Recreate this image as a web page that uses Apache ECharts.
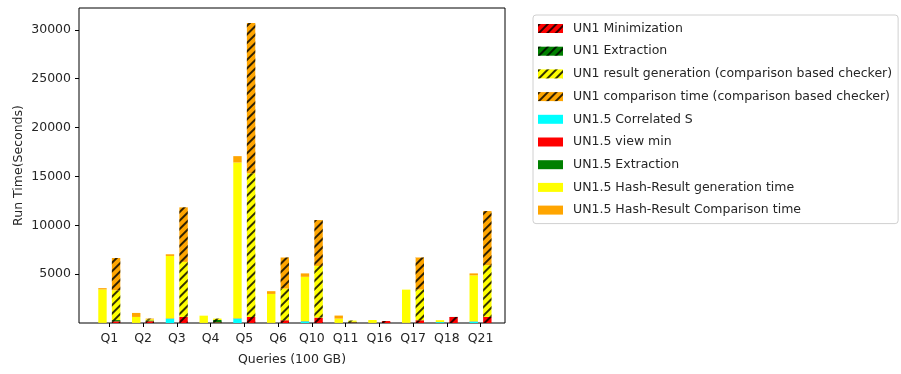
<!DOCTYPE html>
<html>
<head>
<meta charset="utf-8">
<script src="https://cdn.jsdelivr.net/npm/echarts@6/dist/echarts.min.js"></script>
<style>
  html, body { margin: 0; padding: 0; background: #fff; }
  #chart { width: 901px; height: 374px; }
</style>
</head>
<body>
<div id="chart"></div>
<script>
// Query names along the x axis
const categories = ['Q1', 'Q2', 'Q3', 'Q4', 'Q5', 'Q6', 'Q10', 'Q11', 'Q16', 'Q17', 'Q18', 'Q21'];

// UN1.5 run time components (seconds)
const un15CorrelatedS = [0, 0, 450, 0, 450, 0, 170, 0, 0, 0, 90, 150];
const un15ViewMin     = [10, 5, 20, 5, 20, 10, 15, 5, 5, 10, 5, 15];
const un15Extraction  = [5, 5, 10, 5, 10, 5, 10, 5, 5, 5, 5, 10];
const un15HashGen     = [3420, 610, 6380, 740, 15940, 2960, 4530, 440, 300, 3400, 190, 4700];
const un15HashCmp     = [130, 410, 170, 0, 650, 280, 350, 310, 0, 0, 0, 200];

// UN1 run time components (seconds)
const un1Minimization = [170, 180, 615, 60, 615, 280, 550, 60, 200, 280, 615, 615];
const un1Extraction   = [130, 80, 10, 250, 10, 10, 10, 60, 5, 10, 5, 10];
const un1ResultGen    = [3050, 120, 5625, 140, 14690, 3235, 5280, 130, 0, 3130, 0, 5290];
const un1Comparison   = [3300, 70, 5580, 0, 15376, 3175, 4690, 0, 0, 3280, 0, 5536];

// y tick values
const yTicks = [5000, 10000, 15000, 20000, 25000, 30000];

const FONT = 'DejaVu Sans';
const TEXT = '#262626';

const sumAt = (arrs, i) => arrs.reduce((s, a) => s + a[i], 0);
const totals15 = categories.map((_, i) => sumAt([un15CorrelatedS, un15ViewMin, un15Extraction, un15HashGen, un15HashCmp], i));
const totals1 = categories.map((_, i) => sumAt([un1Minimization, un1Extraction, un1ResultGen, un1Comparison], i));
const yMax = Math.max(...totals15, ...totals1) * 1.05;

// diagonal "///" hatching for the UN1 bars
const hatch = {
  symbol: 'rect',
  symbolSize: 1,
  color: 'rgba(0,0,0,0.8)',
  dashArrayX: [1, 0],
  dashArrayY: [1.4, 3.4],
  rotation: -Math.PI / 4
};

function solid(name, data, color) {
  return {
    name, type: 'bar', stack: 'un15', data,
    xAxisIndex: 0, yAxisIndex: 0,
    barWidth: 8.4, barGap: '62%',
    itemStyle: { color },
    emphasis: { disabled: true }
  };
}
function hatched(name, data, color) {
  return {
    name, type: 'bar', stack: 'un1', data,
    xAxisIndex: 0, yAxisIndex: 0,
    barWidth: 8.4, barGap: '62%',
    itemStyle: { color, decal: hatch },
    emphasis: { disabled: true }
  };
}

const series = [
  solid('UN1.5 Correlated S', un15CorrelatedS, '#00ffff'),
  solid('UN1.5 view min', un15ViewMin, '#ff0000'),
  solid('UN1.5 Extraction', un15Extraction, '#008000'),
  solid('UN1.5 Hash-Result generation time', un15HashGen, '#ffff00'),
  solid('UN1.5 Hash-Result Comparison time', un15HashCmp, '#ffa500'),
  hatched('UN1 Minimization', un1Minimization, '#ff0000'),
  hatched('UN1 Extraction', un1Extraction, '#008000'),
  hatched('UN1 result generation (comparison based checker)', un1ResultGen, '#ffff00'),
  hatched('UN1 comparison time (comparison based checker)', un1Comparison, '#ffa500')
];

const legendOrder = [
  'UN1 Minimization', 'UN1 Extraction',
  'UN1 result generation (comparison based checker)',
  'UN1 comparison time (comparison based checker)',
  'UN1.5 Correlated S', 'UN1.5 view min', 'UN1.5 Extraction',
  'UN1.5 Hash-Result generation time', 'UN1.5 Hash-Result Comparison time'
];

const chart = echarts.init(document.getElementById('chart'), null, { renderer: 'canvas' });
chart.setOption({
  animation: false,
  backgroundColor: '#fff',
  textStyle: { fontFamily: FONT },
  grid: [
    // bar area: category bands
    { left: 92.4, right: 403.6, top: 8, bottom: 51, containLabel: false },
    // framed plot box carrying the value axis
    { left: 79, right: 396, top: 8, bottom: 51, show: true, borderColor: '#000', borderWidth: 1, backgroundColor: 'transparent', z: 0 }
  ],
  xAxis: [
    {
      type: 'category', gridIndex: 0, data: categories,
      axisLine: { show: false },
      axisTick: { show: true, alignWithLabel: true, length: 4, lineStyle: { color: '#000' } },
      axisLabel: { color: TEXT, fontSize: 12.5, fontFamily: FONT, margin: 9 },
      splitLine: { show: false }
    },
    {
      type: 'value', gridIndex: 1, min: 0, max: 1,
      name: 'Queries (100 GB)', nameLocation: 'middle', nameGap: 30,
      nameTextStyle: { color: TEXT, fontSize: 12.5, fontFamily: FONT },
      axisLine: { show: false }, axisTick: { show: false },
      axisLabel: { show: false }, splitLine: { show: false }
    }
  ],
  yAxis: [
    {
      type: 'value', gridIndex: 0, min: 0, max: yMax,
      show: false, splitLine: { show: false }
    },
    {
      type: 'value', gridIndex: 1, min: 0, max: yMax,
      name: 'Run Time(Seconds)', nameLocation: 'middle', nameGap: 54, nameRotate: 90,
      nameTextStyle: { color: TEXT, fontSize: 12.5, fontFamily: FONT },
      axisLine: { show: false },
      axisTick: { show: true, length: 4, lineStyle: { color: '#000' }, customValues: yTicks },
      axisLabel: {
        color: TEXT, fontSize: 12.5, fontFamily: FONT, margin: 8, customValues: yTicks,
        formatter: (v) => String(Math.round(v))
      },
      splitLine: { show: false }
    }
  ],
  legend: {
    orient: 'vertical',
    left: 533, top: 15,
    data: legendOrder,
    icon: 'rect',
    itemWidth: 25, itemHeight: 9,
    itemGap: 9.7,
    padding: [7, 6, 7, 5],
    backgroundColor: '#fff',
    borderColor: '#d0d0d0', borderWidth: 1, borderRadius: 3,
    selectedMode: false,
    textStyle: { color: TEXT, fontSize: 12.5, fontFamily: FONT, lineHeight: 12, padding: [0, 0, 0, 5] }
  },
  series
});
</script>
</body>
</html>
